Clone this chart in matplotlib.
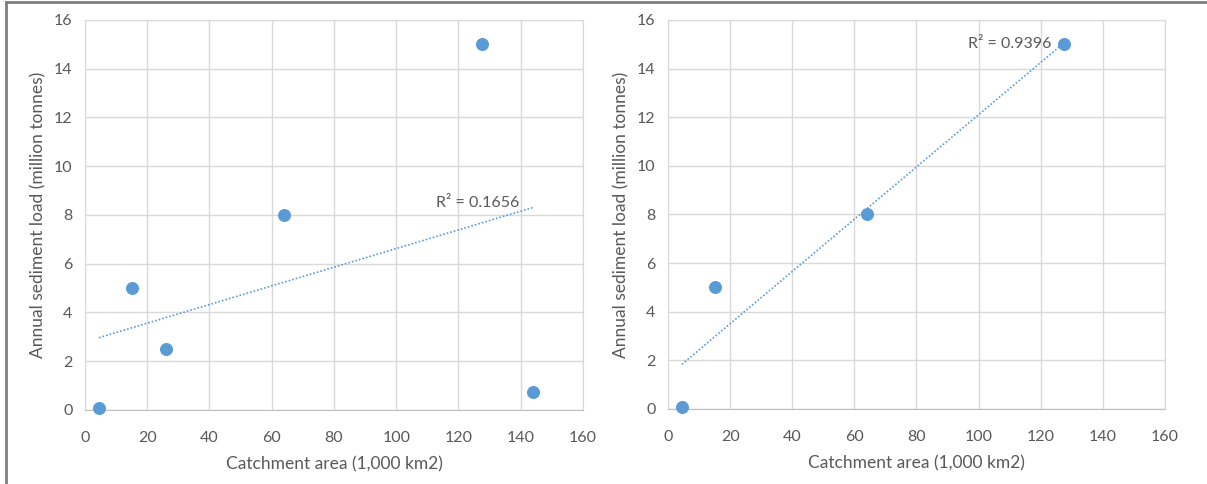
import numpy as np
import matplotlib.pyplot as plt
from matplotlib.lines import Line2D

# catchment area (1,000 km2) and annual sediment load (million tonnes)
area_all = [4.5, 15, 26, 64, 127.5, 144]
load_all = [0.1, 5, 2.5, 8, 15, 0.75]

area_sub = [4.5, 15, 64, 127.5]
load_sub = [0.1, 5, 8, 15]

r2_labels = ["R² = 0.1656", "R² = 0.9396"]

blue = '#5B9BD5'
grey_txt = '#595959'
grid_c = '#D9D9D9'

plt.rcParams['font.family'] = ['Lato', 'DejaVu Sans']

fig = plt.figure(figsize=(12.07, 4.84), dpi=100)

# frame around the picture (left and top edges show)
fig.add_artist(Line2D([0.005, 0.005], [0, 0.996], color='#7F7F7F', lw=2))
fig.add_artist(Line2D([0.005, 1], [0.996, 0.996], color='#7F7F7F', lw=2))

boxes = [[0.0704, 0.153, 0.4126, 0.8057], [0.5534, 0.155, 0.4118, 0.8037]]
datasets = [(area_all, load_all), (area_sub, load_sub)]
label_pos = [(139.5, 8.5), (123.6, 15.0)]

for box, (xs, ys), lab, lp in zip(boxes, datasets, r2_labels, label_pos):
    ax = fig.add_axes(box)
    ax.set_xlim(0, 160)
    ax.set_ylim(0, 16)
    ax.set_xticks(range(0, 161, 20))
    ax.set_yticks(range(0, 17, 2))
    ax.grid(True, color=grid_c, lw=1)
    ax.set_axisbelow(True)
    for s in ['top', 'right', 'left']:
        ax.spines[s].set_color(grid_c)
    ax.spines['bottom'].set_color('#BFBFBF')
    ax.tick_params(length=0, labelsize=11.5, colors=grey_txt)
    ax.tick_params(axis='x', pad=15)
    ax.tick_params(axis='y', pad=9)

    # linear trendline over the data range
    k, b = np.polyfit(xs, ys, 1)
    xx = np.array([min(xs), max(xs)])
    ax.plot(xx, k * xx + b, color=blue, lw=1.2, ls=(0, (1, 1.2)))
    ax.scatter(xs, ys, s=70, color=blue, zorder=3, clip_on=False)
    ax.text(lp[0], lp[1], lab, ha='right', va='center', fontsize=11.5, color=grey_txt)

    ax.set_xlabel('Catchment area (1,000 km2)', fontsize=12.5, color=grey_txt, labelpad=8)
    ax.set_ylabel('Annual sediment load (million tonnes)', fontsize=12.5, color=grey_txt, labelpad=5)

fig.savefig('out.png', dpi=100, facecolor='white')
